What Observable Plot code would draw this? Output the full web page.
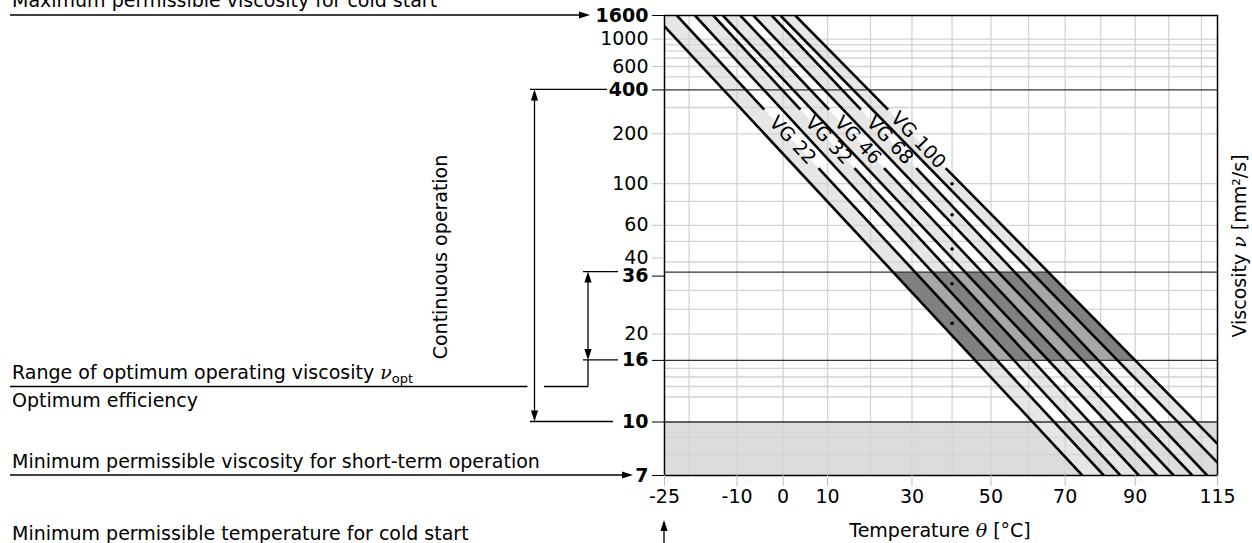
<!DOCTYPE html>
<html><head><meta charset="utf-8">
<script src="https://cdn.jsdelivr.net/npm/d3@7"></script>
<script src="https://cdn.jsdelivr.net/npm/@observablehq/plot@0.6"></script>
<style>
html,body{margin:0;padding:0;background:#fff;}
#chart{position:relative;width:1252px;height:543px;overflow:hidden;}
svg{font-family:"DejaVu Sans",sans-serif;}
</style></head><body><div id="chart"></div>
<script>
// ---------- data ----------
const tDomain = [-25, 115];            // temperature °C
const vDomain = [7, 1600];             // viscosity mm²/s
const xTicks = [-25, -10, 0, 10, 30, 50, 70, 90, 115];
const xGrid = [-20, -10, 0, 10, 20, 30, 40, 50, 60, 70, 80, 90, 100, 110];
const yTicksBold = [7, 10, 16, 36, 400, 1600];
const yTicksNormal = [20, 40, 60, 100, 200, 600, 1000];
const yGrid = [8, 9, 12, 13, 14, 15, 20, 25, 30, 40, 50, 60, 80, 100, 200, 300, 500, 600, 700, 800, 900, 1000];
const yRefLines = [10, 16, 36, 400];
const shortTermZone = [7, 10];
const optimumZone = [16, 36];
const vgClasses = ["VG 22", "VG 32", "VG 46", "VG 68", "VG 100"];
const vgNominal = [22, 32, 46, 68, 100];      // at 40 °C
const dotTemp = 40;
// lower tolerance line of each class: start (top/left edge) and end (bottom/right edge)
const lowStartT = [-25, -18.8, -13, -6.5, -0.6];
const lowStartV = [1280, 1600, 1600, 1600, 1600];
const lowEndT = [74.8, 85.7, 96.5, 107.2, 115];
const lowEndV = [7, 7, 7, 7, 7.6];
// upper tolerance line of each class
const highStartT = [-22.5, -15, -9.3, -2.5, 2.7];
const highStartV = [1600, 1600, 1600, 1600, 1600];
const highEndT = [80.9, 91.1, 101.5, 111.8, 115];
const highEndV = [7, 7, 7, 7, 8.6];
// class labels sit on the upper line, which is broken between these viscosities
const labelV = 182;
const labelGapV = [290, 123];

// ---------- scales: Ubbelohde-Walther axes ----------
const W = v => Math.log10(Math.log10(v + 0.7));
const K = t => Math.log10(t + 273.15);
const fmtV = w => String(Math.round(Math.pow(10, Math.pow(10, w)) - 0.7));
const fmtT = x => String(Math.round(Math.pow(10, x) - 273.15));

// ---------- derived tables (straight lines in the transformed plane) ----------
const isTop = p => p.v === vDomain[1];
const isLeft = p => p.t === tDomain[0];
const isBottom = p => p.v === vDomain[0];
const isRight = p => p.t === tDomain[1];
const kw = p => ({k: K(p.t), w: W(p.v)});
const seg = (s, e) => ({k1: K(s.t), w1: W(s.v), k2: K(e.t), w2: W(e.v)});
const kAt = (s, w) => s.k1 + (w - s.w1) * (s.k2 - s.k1) / (s.w2 - s.w1);
const lines = [], bands = [], labels = [];
const lowKW = [], highKW = [];
vgClasses.forEach((c, i) => {
  const ls = {t: lowStartT[i], v: lowStartV[i]}, le = {t: lowEndT[i], v: lowEndV[i]};
  const hs = {t: highStartT[i], v: highStartV[i]}, he = {t: highEndT[i], v: highEndV[i]};
  const lo = seg(ls, le), hi = seg(hs, he);
  lowKW.push(lo); highKW.push(hi);
  lines.push({id: c + " low", ...kw(ls)}, {id: c + " low", ...kw(le)});
  const wg0 = W(labelGapV[0]), wg1 = W(labelGapV[1]);
  lines.push({id: c + " high a", ...kw(hs)}, {id: c + " high a", k: kAt(hi, wg0), w: wg0});
  lines.push({id: c + " high b", k: kAt(hi, wg1), w: wg1}, {id: c + " high b", ...kw(he)});
  labels.push({cls: c, k: kAt(hi, W(labelV)), w: W(labelV)});
  const poly = [ls, le];
  if (isBottom(le) && isRight(he)) poly.push({t: tDomain[1], v: vDomain[0]});
  poly.push(he, hs);
  if (isTop(hs) && isLeft(ls)) poly.push({t: tDomain[0], v: vDomain[1]});
  poly.forEach(p => bands.push({cls: c, ...kw(p)}));
});
const wLo = W(optimumZone[0]), wHi = W(optimumZone[1]);
const quad = (a, b, id) => [
  {id, k: kAt(a, wHi), w: wHi}, {id, k: kAt(a, wLo), w: wLo},
  {id, k: kAt(b, wLo), w: wLo}, {id, k: kAt(b, wHi), w: wHi}];
const optEnvelope = quad(lowKW[0], highKW[highKW.length - 1], "env");
const optBands = vgClasses.flatMap((c, i) => quad(lowKW[i], highKW[i], c));
const dots = vgNominal.map((v, i) => ({cls: vgClasses[i], t: dotTemp, v}));

const FONT = 19;
const axisOpts = {anchor: "left", tickSize: 12, tickPadding: 4, fill: "#000", tickFormat: fmtV, fontSize: FONT, label: null};
const chart = Plot.plot({
  width: 1252, height: 543,
  marginLeft: 664, marginRight: 35, marginTop: 15, marginBottom: 68,
  style: {fontFamily: "DejaVu Sans", fontSize: FONT + "px", background: "transparent", overflow: "visible"},
  x: {type: "linear", domain: tDomain.map(K), axis: null},
  y: {type: "linear", domain: vDomain.map(W), axis: null},
  marks: [
    Plot.rect([shortTermZone], {x1: K(tDomain[0]), x2: K(tDomain[1]), y1: d => W(d[0]), y2: d => W(d[1]), fill: "#dcdcdc"}),
    Plot.line(bands, {x: "k", y: "w", z: "cls", fill: "#e6e6e6", stroke: null, clip: true}),
    Plot.ruleX(xGrid, {x: K, stroke: "#d3d3d3", strokeWidth: 1.3}),
    Plot.ruleY(yGrid, {y: W, stroke: "#d3d3d3", strokeWidth: 1.3}),
    Plot.line(optEnvelope, {x: "k", y: "w", z: "id", fill: "#a7a7aa", stroke: null}),
    Plot.line(optBands, {x: "k", y: "w", z: "id", fill: "#808080", stroke: null}),
    Plot.ruleY(yRefLines, {y: W, stroke: "#333", strokeWidth: 1.3}),
    Plot.line(lines, {x: "k", y: "w", z: "id", stroke: "#000", strokeWidth: 2.6, strokeLinecap: "butt", clip: true}),
    Plot.dot(dots, {x: d => K(d.t), y: d => W(d.v), r: 1.8, fill: "#000", stroke: null}),
    Plot.text(labels, {x: "k", y: "w", text: "cls", rotate: 46.5, fontSize: FONT, fill: "#000"}),
    Plot.frame({stroke: "#000", strokeWidth: 1.5}),
    Plot.axisY(yTicksNormal.filter(v => v !== 40).map(W), {...axisOpts, stroke: "#c4c4c4"}),
    Plot.axisY([W(40)], {...axisOpts, stroke: "#c4c4c4", dy: -4}),
    Plot.axisY(yTicksBold.filter(v => v !== 36).map(W), {...axisOpts, stroke: "#000", fontWeight: "bold"}),
    Plot.axisY([W(36)], {...axisOpts, stroke: "#000", fontWeight: "bold", dy: 4}),
    Plot.axisX(xTicks.map(K), {anchor: "bottom", tickSize: 11, tickPadding: 3, stroke: "#bdbdbd", fill: "#000", tickFormat: fmtT, fontSize: FONT, label: null})
  ]
});
document.getElementById("chart").appendChild(chart);

// ---------- annotations positioned through the chart's scales ----------
const svg = d3.select(chart);
const ys = v => chart.scale("y").apply(W(v));
const xs = t => chart.scale("x").apply(K(t));

const ann = svg.append("g").attr("class", "annotations");
const L = (x1, y1, x2, y2, w = 1.3) => ann.append("line").attr("x1", x1).attr("y1", y1).attr("x2", x2).attr("y2", y2)
  .attr("stroke", "#000").attr("stroke-width", w);
const head = (x, y, dir) => { // arrowhead with tip at (x,y)
  const l = 11, h = 3.6;
  let pts;
  if (dir === "right") pts = [[x, y], [x - l, y - h], [x - l, y + h]];
  if (dir === "up") pts = [[x, y], [x - h, y + l], [x + h, y + l]];
  if (dir === "down") pts = [[x, y], [x - h, y - l], [x + h, y - l]];
  ann.append("polygon").attr("points", pts.map(p => p.join(",")).join(" ")).attr("fill", "#000");
};
const T = (x, y, str, opts = {}) => {
  const t = ann.append("text").attr("x", x).attr("y", y).attr("font-size", FONT).attr("fill", "#000")
    .attr("font-family", "DejaVu Sans").attr("text-anchor", opts.anchor || "start");
  if (opts.rotate != null) t.attr("transform", `rotate(${opts.rotate},${x},${y})`);
  t.append("tspan").text(str);
  return t;
};
// Max viscosity for cold start -> 1600
T(12, 7, "Maximum permissible viscosity for cold start");
L(10, ys(1600), 586, ys(1600)); head(590, ys(1600), "right");
// continuous operation: 400 .. 10
L(530, ys(400), 607, ys(400)); L(530, ys(10), 613, ys(10));
L(534.5, ys(400) + 6, 534.5, ys(10) - 6); head(534.5, ys(400), "up"); head(534.5, ys(10), "down");
T(447, 257, "Continuous operation", {anchor: "middle", rotate: -90});
// optimum range 36 .. 16
L(583, ys(36), 618, ys(36)); L(583, ys(16), 618, ys(16));
L(588, ys(36) + 6, 588, ys(16) - 6); head(588, ys(36), "up"); head(588, ys(16), "down");
const yOpt = 386.5;
L(10, yOpt, 527.5, yOpt); L(544, yOpt, 588, yOpt); L(588, yOpt, 588, ys(16));
const tOpt = T(12, 378.5, "Range of optimum operating viscosity ");
tOpt.append("tspan").attr("font-family", "DejaVu Serif").attr("font-style", "italic").text("ν");
tOpt.append("tspan").attr("font-size", 13).attr("dy", 4).text("opt");
T(12, 406.5, "Optimum efficiency");
// short-term minimum -> 7
T(12, 468, "Minimum permissible viscosity for short-term operation");
L(10, ys(7), 628, ys(7)); head(633, ys(7), "right");
// cold start temperature
T(12, 540, "Minimum permissible temperature for cold start");
L(xs(-25), 543, xs(-25), 528); head(xs(-25), 520, "up");
// axis titles
const tx = T(940, 537, "Temperature ", {anchor: "middle"});
tx.append("tspan").attr("font-family", "DejaVu Serif").attr("font-style", "italic").text("θ");
tx.append("tspan").text(" [°C]");
const ty = T(1246, 246, "Viscosity ", {anchor: "middle", rotate: -90});
ty.append("tspan").attr("font-family", "DejaVu Serif").attr("font-style", "italic").text("ν");
ty.append("tspan").text(" [mm²/s]");
</script></body></html>
